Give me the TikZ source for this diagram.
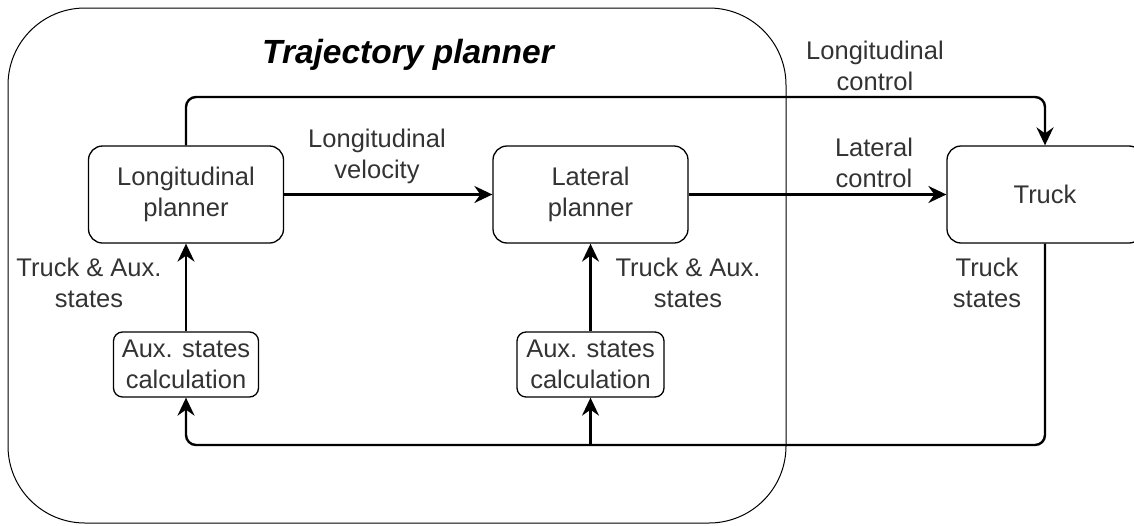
\documentclass[tikz,border=0pt]{standalone}
\usepackage{fontspec}
\setmainfont{Liberation Sans}
\usetikzlibrary{arrows.meta,calc}
\definecolor{txt}{RGB}{51,51,51}
\tikzset{
  lbl/.style={font=\fontsize{25.5}{30.6}\selectfont, text=txt, align=center, inner sep=0pt},
  box/.style={draw=black, line width=1.3pt, rounded corners=14pt, fill=white, font=\fontsize{25.5}{30.6}\selectfont, text=txt, align=center, inner sep=0pt},
  auxbox/.style={box, rounded corners=9pt},
  frame/.style={draw=black, line width=1pt, rounded corners=77pt, inner sep=0pt},
  conn/.style={draw=black, line width=2.4pt, rounded corners=10pt, -{Stealth[length=18pt,width=17pt,inset=6pt]}},
  line/.style={draw=black, line width=2.4pt, rounded corners=10pt}
}
\begin{document}
\begin{tikzpicture}[x=1pt,y=-1pt]
\useasboundingbox (0,0) rectangle (1134,525);
\node[frame, minimum width=778pt, minimum height=515pt] (tp) at (397,265.5) {};
\node[anchor=base, inner sep=0pt, font=\fontsize{33.5}{40}\selectfont\bfseries\itshape] (title) at (408,63) {Trajectory planner};

\node[box, minimum width=195pt, minimum height=97pt] (lp) at (186,194.5) {Longitudinal\\planner};
\node[box, minimum width=195pt, minimum height=97pt] (lat) at (590.5,194.5) {Lateral\\planner};
\node[box, minimum width=196pt, minimum height=97pt] (truck) at (1045,194.5) {Truck};
\node[auxbox, minimum width=145pt, minimum height=65pt] (auxl) at (186,364.5) {Aux. states\\calculation};
\node[auxbox, minimum width=147pt, minimum height=65pt] (auxr) at (590.5,364.5) {Aux. states\\calculation};

\coordinate (fb) at (0,445);
\coordinate (top) at (0,97);

\draw[conn] (lp.east) -- (lat.west);
\draw[conn] (lat.east) -- (truck.west);
\draw[conn] (lp.north) -- (lp.north |- top) -| (truck.north);
\draw[conn] (truck.south) -- (truck.south |- fb) -| (auxl.south);
\draw[conn] (auxr.south |- fb) -- (auxr.south);
\draw[conn] (auxl.north) -- (lp.south);
\draw[conn] (auxr.north) -- (lat.south);

\node[lbl, anchor=base] (lv) at (377,178) {Longitudinal\\velocity};
\node[lbl, anchor=base] (lc) at (875,90) {Longitudinal\\control};
\node[lbl, anchor=base] (latc) at (874,187) {Lateral\\control};
\node[lbl, anchor=base] (tal) at (89,307) {Truck \& Aux.\\states};
\node[lbl, anchor=base] (tar) at (688,307) {Truck \& Aux.\\states};
\node[lbl, anchor=base] (ts) at (987,307) {Truck\\states};
\end{tikzpicture}
\end{document}
